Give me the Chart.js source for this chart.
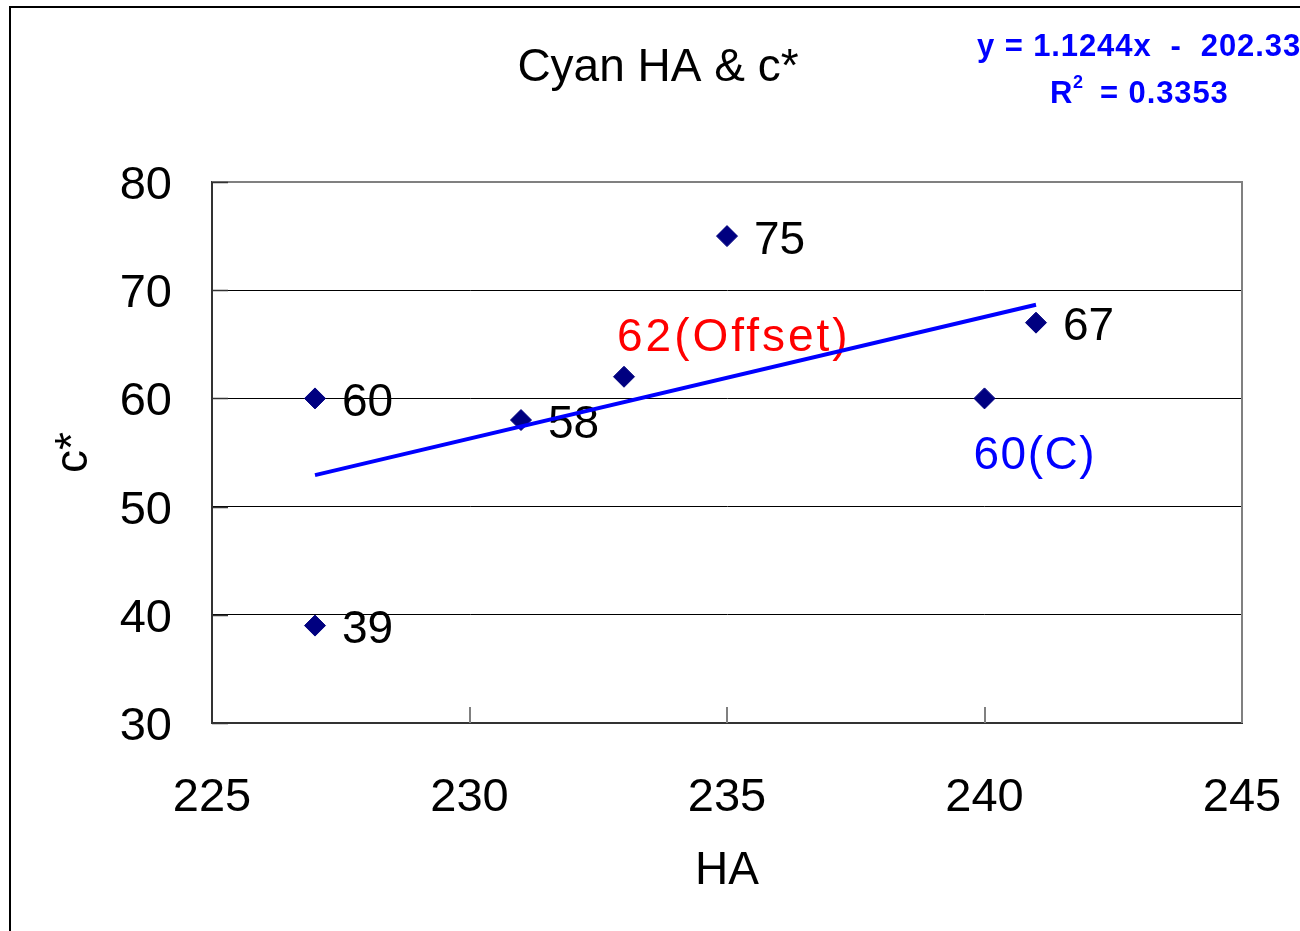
<!DOCTYPE html>
<html>
<head>
<meta charset="utf-8">
<script src="https://cdn.jsdelivr.net/npm/chart.js@4.4.1/dist/chart.umd.min.js"></script>
<style>
  html, body { margin: 0; padding: 0; background: #fff; }
  #wrap { width: 1300px; height: 931px; position: relative; }
  canvas { display: block; background: #fff; }
</style>
</head>
<body>
<div id="wrap"><canvas id="c" width="1300" height="931"></canvas></div>
<script>
// ---- data ----
const ha = [227, 227, 231, 233, 235, 240, 241];
const cStar = [60, 39, 58, 62, 75, 60, 67];
const pointLabels = ['60', '39', '58', '62(Offset)', '75', '60(C)', '67'];
// trendline end points (y = 1.1244x - 202.33, drawn over the data range)
const trendHA = [227, 241];
const trendC = [52.91, 68.66];
const equationText = 'y = 1.1244x  -  202.33';
const r2Value = '0.3353';
const chartTitle = 'Cyan HA & c*';
const xTitle = 'HA';
const yTitle = 'c*';

const FONT = "'Liberation Sans', Arial, sans-serif";
Chart.defaults.font.family = FONT;
Chart.defaults.color = '#000';

const scatterData = ha.map((x, i) => ({ x: x, y: cStar[i] }));
const trendData = trendHA.map((x, i) => ({ x: x, y: trendC[i] }));

// label placement/styles (not data)
function labelStyle(i) {
  const t = pointLabels[i];
  if (t.indexOf('Offset') >= 0) return { color: '#FF0000', dx: -7, dy: -38, spacing: 3 };
  if (t.indexOf('(C)') >= 0) return { color: '#0000FF', dx: -11, dy: 58, spacing: 1.5 };
  return { color: '#000', dx: 27, dy: 5, spacing: 0 };
}

const framePlugin = {
  id: 'frame',
  beforeDatasetsDraw(chart) {
    const ctx = chart.ctx, a = chart.chartArea;
    const xs = chart.scales.x, ys = chart.scales.y;
    ctx.save();
    // top & right plot border (gray)
    ctx.strokeStyle = '#808080';
    ctx.lineWidth = 2;
    ctx.beginPath();
    ctx.moveTo(a.left, a.top); ctx.lineTo(a.right, a.top); ctx.lineTo(a.right, a.bottom);
    ctx.stroke();
    // inside x tick marks
    xs.ticks.forEach((t, i) => {
      if (i === 0 || i === xs.ticks.length - 1) return;
      const px = Math.round(xs.getPixelForValue(t.value));
      ctx.beginPath(); ctx.moveTo(px, a.bottom); ctx.lineTo(px, a.bottom - 16); ctx.stroke();
    });
    // inside y tick marks
    ctx.strokeStyle = '#333';
    ys.ticks.forEach((t) => {
      const py = Math.round(ys.getPixelForValue(t.value)) + 0.5;
      ctx.lineWidth = 1.5;
      ctx.beginPath(); ctx.moveTo(a.left, py); ctx.lineTo(a.left + 16, py); ctx.stroke();
    });
    // point labels
    const meta = chart.getDatasetMeta(1);
    ctx.textBaseline = 'middle';
    ctx.textAlign = 'left';
    meta.data.forEach((el, i) => {
      const s = labelStyle(i);
      ctx.font = '46px ' + FONT;
      ctx.fillStyle = s.color;
      ctx.letterSpacing = s.spacing + 'px';
      ctx.fillText(pointLabels[i], el.x + s.dx, el.y + s.dy);
    });
    ctx.letterSpacing = '0px';
    ctx.restore();
  },
  afterDraw(chart) {
    const ctx = chart.ctx;
    ctx.save();
    // equation text
    ctx.fillStyle = '#0000FF';
    ctx.textBaseline = 'middle';
    ctx.textAlign = 'left';
    ctx.font = 'bold 31px ' + FONT;
    ctx.letterSpacing = '0.9px';
    ctx.fillText(equationText, 977, 47);
    ctx.fillText('R', 1050, 94);
    ctx.fillText('= ' + r2Value, 1100, 94);
    ctx.font = 'bold 18px ' + FONT;
    ctx.fillText('2', 1073, 83);
    ctx.letterSpacing = '0px';
    // outer chart border
    ctx.strokeStyle = '#000';
    ctx.lineWidth = 2;
    ctx.strokeRect(10, 7, 1400, 1000);
    ctx.restore();
  }
};

new Chart(document.getElementById('c'), {
  type: 'scatter',
  data: {
    datasets: [
      {
        label: 'trend',
        data: trendData,
        showLine: true,
        borderColor: '#0000FF',
        borderWidth: 4,
        pointRadius: 0,
        fill: false
      },
      {
        label: 'c*',
        data: scatterData,
        pointStyle: 'rectRot',
        pointRadius: 10.5,
        pointBackgroundColor: '#000080',
        pointBorderColor: '#000080',
        pointBorderWidth: 1,
        showLine: false
      }
    ]
  },
  options: {
    responsive: false,
    devicePixelRatio: 1,
    animation: false,
    events: [],
    layout: { padding: { left: 16, right: 0, top: 0, bottom: 0 } },
    plugins: {
      legend: { display: false },
      tooltip: { enabled: false },
      title: {
        display: true,
        text: chartTitle,
        color: '#000',
        font: { size: 46, weight: 'normal', family: FONT, lineHeight: 1.2 },
        padding: { top: 40.4, bottom: 86.4 }
      }
    },
    scales: {
      x: {
        type: 'linear',
        position: 'bottom',
        min: 225, max: 245,
        ticks: { stepSize: 5, color: '#000', font: { size: 47 }, padding: 47, maxRotation: 0 },
        grid: { display: true, color: 'rgba(0,0,0,0)', drawTicks: false },
        border: { display: true, color: '#333', width: 2 },
        title: { display: true, text: xTitle, color: '#000', font: { size: 46, lineHeight: 1.2 }, padding: { top: 0, bottom: 32.4 } },
        afterFit(s) { s.height = 208; s.paddingLeft = 0; s.paddingRight = 0; }
      },
      y: {
        type: 'linear',
        position: 'left',
        min: 30, max: 80,
        ticks: { stepSize: 10, color: '#000', font: { size: 47 }, padding: 40, labelOffset: 4 },
        grid: {
          display: true,
          drawTicks: false,
          lineWidth: 1,
          color: (c) => (c.tick && c.tick.value > 30 && c.tick.value < 80) ? '#000' : 'rgba(0,0,0,0)'
        },
        border: { display: true, color: '#333', width: 2 },
        title: { display: true, text: yTitle, color: '#000', font: { size: 46, lineHeight: 1.2 }, padding: { top: 30.4, bottom: 0 } },
        afterFit(s) { s.width = 196; s.paddingTop = 0; s.paddingBottom = 0; }
      },
      y2: {
        type: 'linear',
        position: 'right',
        display: true,
        ticks: { display: false },
        grid: { display: false, drawTicks: false },
        border: { display: false },
        afterFit(s) { s.width = 58; s.paddingTop = 0; s.paddingBottom = 0; }
      }
    }
  },
  plugins: [framePlugin]
});
</script>
</body>
</html>
